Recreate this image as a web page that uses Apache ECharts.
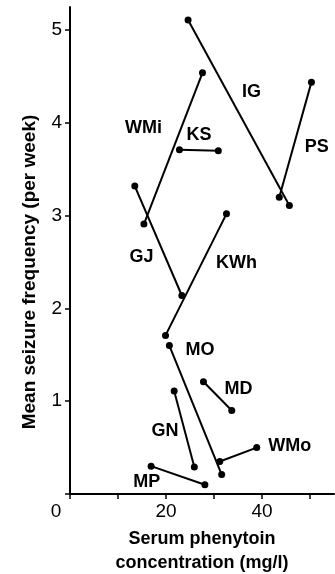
<!DOCTYPE html>
<html>
<head>
<meta charset="utf-8">
<script src="https://cdn.jsdelivr.net/npm/echarts@6/dist/echarts.min.js"></script>
<style>
  html, body { margin: 0; padding: 0; background: #fff; }
  #chart { width: 335px; height: 574px; }
</style>
</head>
<body>
<div id="chart"></div>
<script>
// patients, each measured twice: serum phenytoin (mg/l) vs seizures per week
const patients = ['IG', 'PS', 'WMi', 'KS', 'GJ', 'KWh', 'MO', 'MD', 'GN', 'WMo', 'MP'];
const concA = [24.6, 50.3, 15.4, 22.8, 13.5, 19.9, 20.7, 27.8, 21.7, 31.2, 16.9];
const freqA = [5.11, 4.44, 2.91, 3.71, 3.32, 1.71, 1.60, 1.21, 1.11, 0.35, 0.30];
const concB = [45.7, 43.6, 27.6, 30.9, 23.3, 32.6, 31.6, 33.7, 25.9, 38.9, 28.1];
const freqB = [3.11, 3.20, 4.54, 3.70, 2.14, 3.02, 0.21, 0.90, 0.29, 0.50, 0.10];
// where each patient's initials sit (data units)
const labelConc = [37.8, 51.4, 15.3, 26.9, 14.9, 34.7, 27.1, 35.1, 19.8, 45.8, 16.0];
const labelFreq = [4.33, 3.74, 3.94, 3.87, 2.55, 2.49, 1.55, 1.13, 0.68, 0.52, 0.13];
const xTickLabels = [0, 20, 40];
const yTickLabels = [1, 2, 3, 4, 5];

const font = 'Liberation Sans, Arial, Helvetica, sans-serif';
const chart = echarts.init(document.getElementById('chart'));

const series = patients.map((p, i) => ({
  name: p,
  type: 'line',
  symbol: 'circle',
  symbolSize: 7,
  lineStyle: {color: '#000', width: 2},
  itemStyle: {color: '#000'},
  silent: true,
  animation: false,
  data: [[concA[i], freqA[i]], [concB[i], freqB[i]]]
}));

series.push({
  name: 'labels',
  type: 'scatter',
  symbolSize: 0,
  animation: false,
  silent: true,
  itemStyle: {opacity: 1, color: '#000'},
  label: {
    show: true,
    position: 'inside',
    formatter: (d) => d.data[2],
    color: '#000',
    opacity: 1,
    fontFamily: font,
    fontWeight: 'bold',
    fontSize: 18
  },
  data: patients.map((p, i) => [labelConc[i], labelFreq[i], p])
});

const option = {
  backgroundColor: '#fff',
  grid: {left: 70, right: 1, top: 7, bottom: 80, outerBoundsMode: 'none'},
  xAxis: {
    type: 'value',
    min: 0,
    max: 55,
    interval: 10,
    splitLine: {show: false},
    axisLine: {lineStyle: {color: '#000', width: 2}},
    axisTick: {show: true, length: 5, lineStyle: {color: '#000', width: 1.5}},
    axisLabel: {
      margin: 8,
      color: '#000',
      fontFamily: font,
      fontSize: 19,
      showMaxLabel: false,
      formatter: (v) => {
        if (v === 0) return '{z|0}';
        return xTickLabels.indexOf(v) >= 0 ? String(v) : '';
      },
      rich: {
        z: {fontSize: 19, fontFamily: font, color: '#000', padding: [0, 28, 0, 0]}
      }
    },
    name: 'Serum phenytoin\nconcentration (mg/l)',
    nameLocation: 'middle',
    nameGap: 33,
    nameTextStyle: {
      color: '#000',
      fontFamily: font,
      fontWeight: 'bold',
      fontSize: 18,
      lineHeight: 24
    }
  },
  yAxis: {
    type: 'value',
    min: 0,
    max: 5.25,
    interval: 1,
    splitLine: {show: false},
    axisLine: {lineStyle: {color: '#000', width: 2}},
    axisTick: {show: true, length: 5, lineStyle: {color: '#000', width: 1.5}},
    axisLabel: {
      margin: 8,
      color: '#000',
      fontFamily: font,
      fontSize: 19,
      showMaxLabel: false,
      formatter: (v) => (yTickLabels.indexOf(v) >= 0 ? String(v) : '')
    },
    name: 'Mean seizure frequency (per week)',
    nameLocation: 'middle',
    nameRotate: 90,
    nameGap: 31,
    nameTextStyle: {
      color: '#000',
      fontFamily: font,
      fontWeight: 'bold',
      fontSize: 19,
      padding: [0, 43, 0, 0]
    }
  },
  series: series
};

chart.setOption(option);
</script>
</body>
</html>
